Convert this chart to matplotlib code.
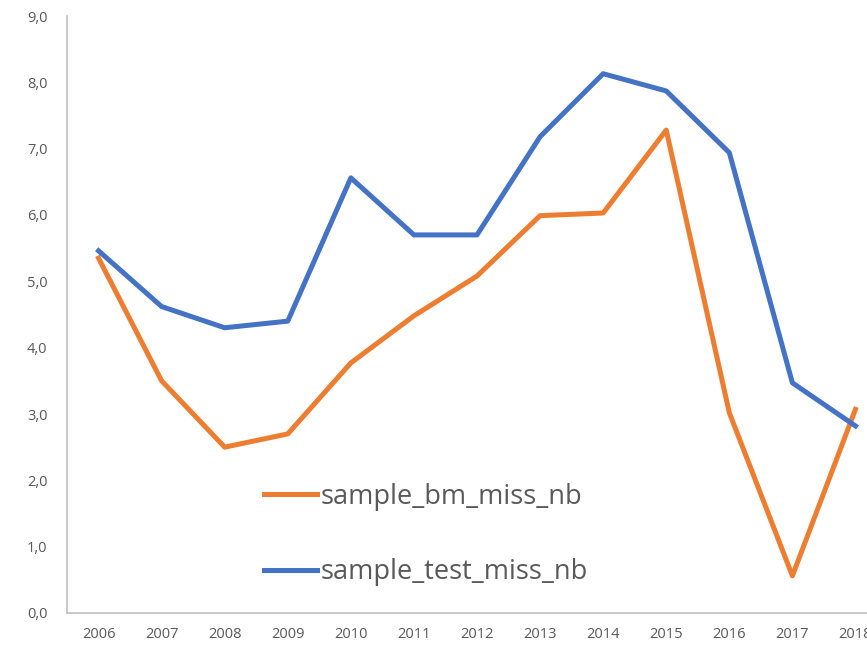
import matplotlib.pyplot as plt
import matplotlib.ticker as mticker

years = [2006, 2007, 2008, 2009, 2010, 2011, 2012, 2013, 2014, 2015, 2016, 2017, 2018]
bm_miss = [5.35, 3.50, 2.50, 2.70, 3.77, 4.48, 5.08, 5.99, 6.03, 7.28, 3.02, 0.56, 3.07]
test_miss = [5.46, 4.62, 4.30, 4.40, 6.56, 5.70, 5.70, 7.18, 8.13, 7.87, 6.94, 3.47, 2.82]

ORANGE = '#ED7D31'
BLUE = '#4472C4'
GREY = '#595959'

plt.rcParams['font.family'] = ['Open Sans', 'DejaVu Sans']

fig = plt.figure(figsize=(8.67, 6.45), dpi=100)
# axes run past the right edge, like the cropped original
ax = fig.add_axes([67 / 867, 32 / 645, 820 / 867, 597 / 645])

ax.plot(years, bm_miss, color=ORANGE, lw=3.6, label='sample_bm_miss_nb', solid_joinstyle='round')
ax.plot(years, test_miss, color=BLUE, lw=3.6, label='sample_test_miss_nb', solid_joinstyle='round')

ax.set_xlim(2005.5, 2018.5)
ax.set_ylim(0, 9)
ax.set_xticks(years)
ax.set_yticks(range(10))
ax.yaxis.set_major_formatter(mticker.FuncFormatter(lambda v, p: f'{v:.1f}'.replace('.', ',')))

for side in ['top', 'right']:
    ax.spines[side].set_visible(False)
for side in ['left', 'bottom']:
    ax.spines[side].set_color('#BFBFBF')
    ax.spines[side].set_linewidth(1.2)
ax.tick_params(length=0, labelsize=10.5, colors=GREY)
ax.tick_params(axis='y', pad=14)
ax.tick_params(axis='x', pad=10)

leg = ax.legend(loc='upper left', bbox_to_anchor=(253 / 867, 1 - 472 / 645), bbox_transform=fig.transFigure,
                frameon=False, fontsize=19.5, labelcolor=GREY, handlelength=1.95, handletextpad=0.15,
                labelspacing=1.75, borderaxespad=0)

fig.savefig('out.png', dpi=100)
